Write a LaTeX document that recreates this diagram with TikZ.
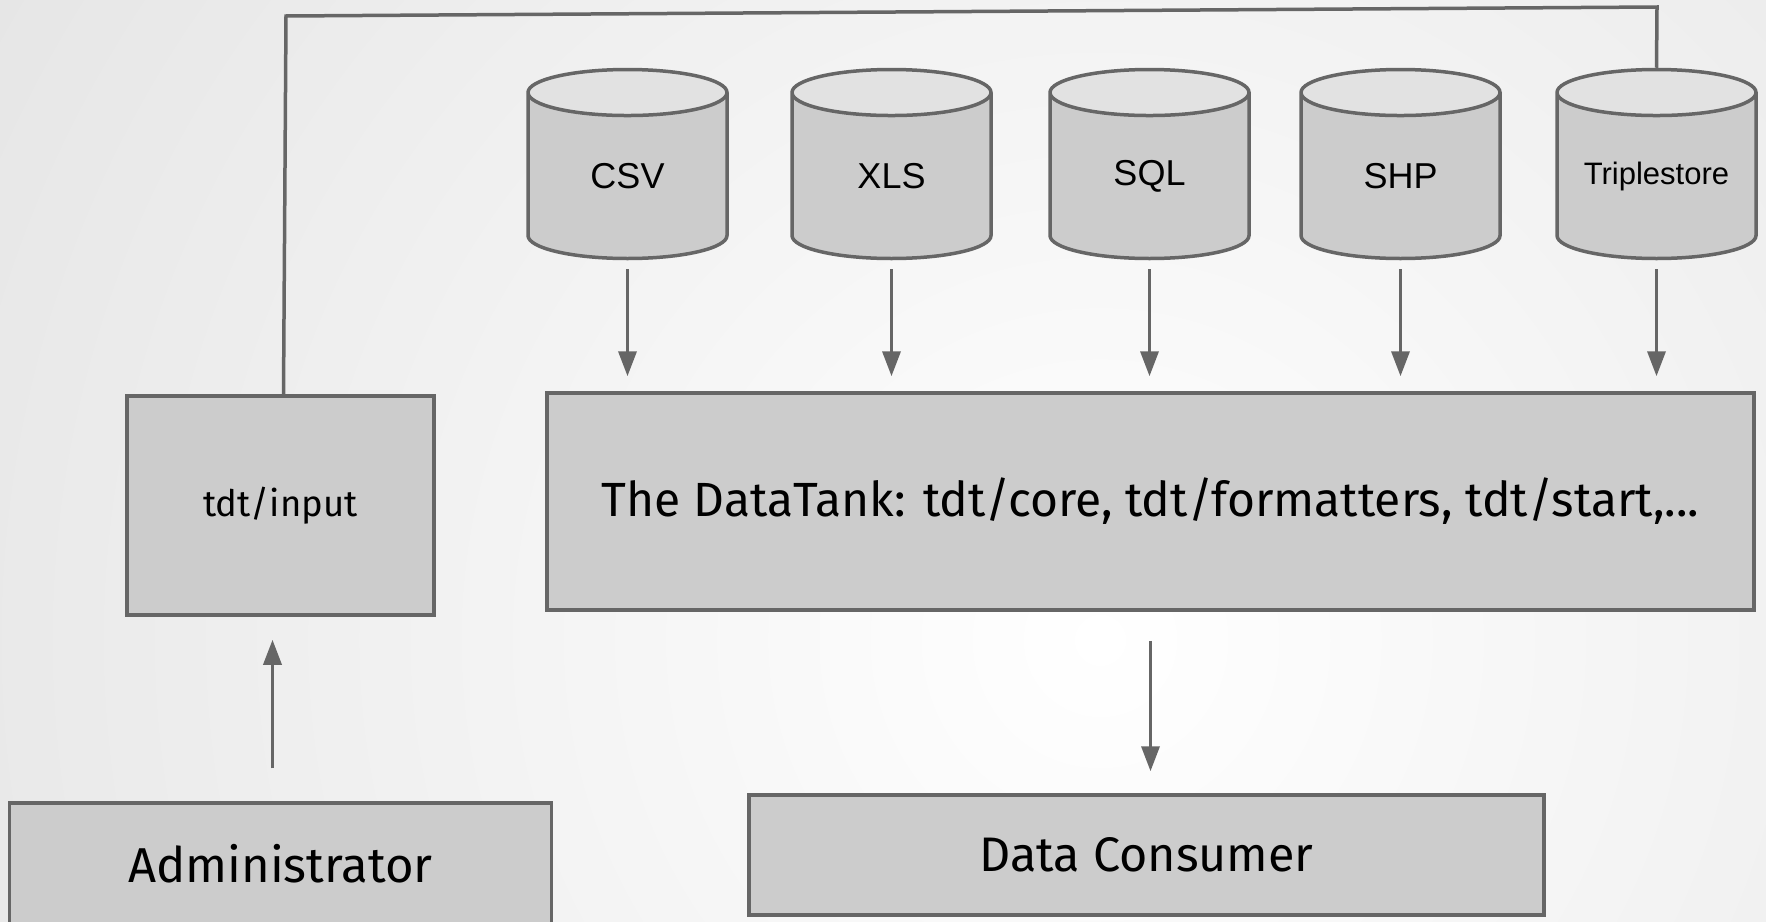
\documentclass[tikz,border=0pt]{standalone}
\usepackage{fontspec}
\setmainfont{Fira Sans}
\newfontfamily\dbfont{Liberation Sans}
\usetikzlibrary{positioning,shapes.geometric,arrows.meta}
\definecolor{linegray}{HTML}{666666}
\definecolor{boxgray}{HTML}{CCCCCC}
\definecolor{endgray}{HTML}{E2E2E2}
\definecolor{bggray}{HTML}{D2D2D2}

\begin{document}
\begin{tikzpicture}[x=1pt, y=1pt, node distance=131pt,
  box/.style={draw=linegray, fill=boxgray, line width=3.5pt, inner sep=0pt},
  db/.style={cylinder, shape border rotate=90, draw=linegray, line width=3.5pt,
    cylinder uses custom fill, cylinder body fill=boxgray, cylinder end fill=endgray,
    minimum width=199pt, minimum height=189pt, text width=195pt, align=center,
    aspect=0.236, inner sep=0pt, font=\dbfont\fontsize{36}{40}\selectfont},
  flow/.style={draw=linegray, line width=3.5pt, -{Triangle[length=25pt,width=18pt]}},
  wire/.style={draw=linegray, line width=3.5pt}]

%% background
\useasboundingbox (0,0) rectangle (1766,-921);
\begin{scope}
\clip (0,0) rectangle (1766,-921);
\shade[inner color=white, outer color=bggray] (1100,-640) circle (2300);
\end{scope}

%% THE DATATANK
\node[box, minimum width=1207pt, minimum height=217pt, font=\fontsize{48}{52}\selectfont](core) at (1150.5,-501.5){The DataTank: tdt/core, tdt/formatters, tdt/start,...};

%% DATA SOURCES
\node[db, above=of core, xshift=-523pt](csv){CSV};
\node[db, above=of core, xshift=-259pt](xls){XLS};
\node[db, above=of core, xshift=-1pt](sql){SQL};
\node[db, above=of core, xshift=250pt](shp){SHP};
\node[db, above=of core, xshift=506pt, font=\dbfont\fontsize{31}{35}\selectfont](triple){Triplestore};

\draw[flow, shorten <=9pt, shorten >=15pt] (csv.south) -- (csv.south |- core.north);
\draw[flow, shorten <=9pt, shorten >=15pt] (xls.south) -- (xls.south |- core.north);
\draw[flow, shorten <=9pt, shorten >=15pt] (sql.south) -- (sql.south |- core.north);
\draw[flow, shorten <=9pt, shorten >=15pt] (shp.south) -- (shp.south |- core.north);
\draw[flow, shorten <=9pt, shorten >=15pt] (triple.south) -- (triple.south |- core.north);

%% INPUT and ADMINISTRATOR
\node[box, minimum width=307pt, minimum height=219pt, left=109.5pt of core, yshift=-4pt, font=\fontsize{36.5}{40}\selectfont](input){tdt/input};
\node[box, minimum width=542pt, minimum height=122pt, below=184.5pt of input, font=\fontsize{49}{53}\selectfont](admin){Administrator};

\draw[flow, shorten <=33pt, shorten >=23pt] ([xshift=-8pt]admin.north) -- ([xshift=-8pt]admin.north |- input.south);

% wire from tdt/input round to the triplestore
\coordinate (wire_left) at (286,-16);
\coordinate (wire_right) at (1657,-7);
\draw[wire] ([xshift=3pt]input.north) -- (wire_left) -- (wire_right) -- (triple.north);

%% CONSUMER
\node[box, minimum width=795pt, minimum height=120pt, below=181.5pt of core, xshift=-4pt, font=\fontsize{48.5}{52}\selectfont](consumer){Data Consumer};

\draw[flow, shorten <=29pt, shorten >=22pt] (core.south) -- (core.south |- consumer.north);

\end{tikzpicture}
\end{document}
